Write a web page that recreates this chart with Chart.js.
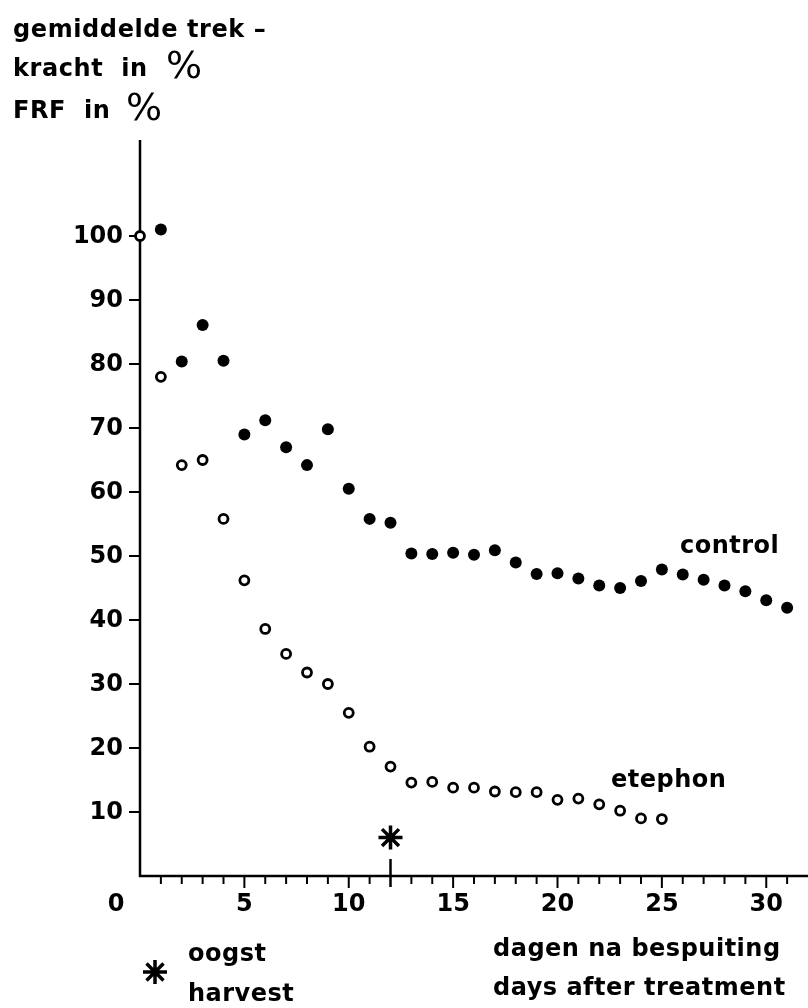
<!DOCTYPE html>
<html>
<head>
<meta charset="utf-8">
<script src="https://cdn.jsdelivr.net/npm/chart.js@4.4.1/dist/chart.umd.min.js"></script>
<style>
  html, body { margin: 0; padding: 0; background: #fff; }
  #wrap { width: 808px; height: 1008px; }
</style>
</head>
<body>
<div id="wrap"><canvas id="trekChart" width="808" height="1008"></canvas></div>
<script>
// days after spraying
const controlDays = [1, 2, 3, 4, 5, 6, 7, 8, 9, 10, 11, 12, 13, 14, 15, 16, 17, 18, 19, 20, 21, 22, 23, 24, 25, 26, 27, 28, 29, 30, 31];
const controlValues = [101.0, 80.4, 86.1, 80.5, 69.0, 71.2, 67.0, 64.2, 69.8, 60.5, 55.8, 55.2, 50.4, 50.3, 50.5, 50.2, 50.9, 49.0, 47.2, 47.3, 46.5, 45.4, 45.0, 46.1, 47.9, 47.1, 46.3, 45.4, 44.5, 43.1, 41.9];

const etephonDays = [0, 1, 2, 3, 4, 5, 6, 7, 8, 9, 10, 11, 12, 13, 14, 15, 16, 17, 18, 19, 20, 21, 22, 23, 24, 25];
const etephonValues = [100, 78.0, 64.2, 65.0, 55.8, 46.2, 38.6, 34.7, 31.8, 30.0, 25.5, 20.2, 17.1, 14.6, 14.7, 13.8, 13.8, 13.2, 13.1, 13.1, 11.9, 12.1, 11.2, 10.2, 9.0, 8.9];

// harvest marker
const harvestDay = 12;
const harvestLevel = 6;

const xTickLabels = [0, 5, 10, 15, 20, 25, 30];
const yTickLabels = [10, 20, 30, 40, 50, 60, 70, 80, 90, 100];
const xMinorTicks = [1, 2, 3, 4, 6, 7, 8, 9, 11, 13, 14, 16, 17, 18, 19, 21, 22, 23, 24, 26, 27, 28, 29, 31];

const FONT = 'bold 24px "DejaVu Sans"';

function toPoints(xs, ys) {
    return xs.map((x, i) => ({ x: x, y: ys[i] }));
}

function drawStar(ctx, x, y, r) {
    ctx.save();
    ctx.strokeStyle = '#000';
    ctx.lineWidth = 3.5;
    ctx.beginPath();
    for (let k = 0; k < 4; k++) {
        const a = k * Math.PI / 4;
        ctx.moveTo(x - Math.cos(a) * r, y - Math.sin(a) * r);
        ctx.lineTo(x + Math.cos(a) * r, y + Math.sin(a) * r);
    }
    ctx.stroke();
    ctx.restore();
}

// axes, ticks and all lettering are drawn by hand from the chart's scales
const axesPlugin = {
    id: 'handAxes',
    beforeDatasetsDraw(chart) {
        const ctx = chart.ctx;
        const xs = chart.scales.x;
        const ys = chart.scales.y;
        const x0 = xs.getPixelForValue(0);
        const y0 = ys.getPixelForValue(0);

        ctx.save();
        ctx.strokeStyle = '#000';
        ctx.fillStyle = '#000';

        // axis lines
        ctx.lineWidth = 2.5;
        ctx.beginPath();
        ctx.moveTo(x0, ys.top);
        ctx.lineTo(x0, y0);
        ctx.lineTo(xs.right, y0);
        ctx.stroke();

        // y ticks + labels
        ctx.lineWidth = 2;
        ctx.font = FONT;
        ctx.textAlign = 'right';
        ctx.textBaseline = 'middle';
        yTickLabels.forEach(v => {
            const py = ys.getPixelForValue(v);
            ctx.beginPath();
            ctx.moveTo(x0 - 11, py);
            ctx.lineTo(x0, py);
            ctx.stroke();
            ctx.fillText(String(v), x0 - 17, py + 1);
        });

        // x ticks
        xMinorTicks.forEach(d => {
            const px = xs.getPixelForValue(d);
            ctx.beginPath();
            ctx.moveTo(px, y0);
            ctx.lineTo(px, y0 + 8);
            ctx.stroke();
        });
        ctx.textAlign = 'center';
        ctx.textBaseline = 'alphabetic';
        xTickLabels.forEach(d => {
            const px = xs.getPixelForValue(d);
            if (d > 0) {
                ctx.beginPath();
                ctx.moveTo(px, y0);
                ctx.lineTo(px, y0 + 12);
                ctx.stroke();
                ctx.fillText(String(d), px, y0 + 35);
            } else {
                ctx.fillText('0', px - 24, y0 + 35);
            }
        });

        // harvest tick across the axis
        const hx = xs.getPixelForValue(harvestDay);
        ctx.lineWidth = 2.5;
        ctx.beginPath();
        ctx.moveTo(hx, y0 - 17);
        ctx.lineTo(hx, y0 + 11);
        ctx.stroke();
        ctx.restore();
    },
    afterDraw(chart) {
        const ctx = chart.ctx;
        ctx.save();
        ctx.fillStyle = '#000';
        ctx.textBaseline = 'alphabetic';
        ctx.textAlign = 'left';
        ctx.font = FONT;
        ctx.letterSpacing = '0.6px';

        ctx.fillText('gemiddelde trek \u2013', 13, 37);
        ctx.fillText('kracht  in', 13, 76);
        ctx.fillText('FRF  in', 13, 118);
        ctx.letterSpacing = '0px';
        ctx.font = '38px "DejaVu Sans"';
        ctx.fillText('%', 166, 78);
        ctx.fillText('%', 126, 120);

        ctx.font = FONT;
        ctx.letterSpacing = '0.5px';
        ctx.fillText('control', 680, 553);
        ctx.fillText('etephon', 611, 787);

        ctx.fillText('oogst', 188, 961);
        ctx.fillText('harvest', 188, 1001);
        ctx.fillText('dagen na bespuiting', 493, 956);
        ctx.fillText('days after treatment', 493, 995);

        drawStar(ctx, 155, 972, 12);
        ctx.restore();
    }
};

const ctx = document.getElementById('trekChart').getContext('2d');
new Chart(ctx, {
    type: 'scatter',
    data: {
        datasets: [
            {
                label: 'control',
                data: toPoints(controlDays, controlValues),
                pointStyle: 'circle',
                pointRadius: 6,
                borderWidth: 0,
                backgroundColor: '#000',
                clip: false
            },
            {
                label: 'etephon',
                data: toPoints(etephonDays, etephonValues),
                pointStyle: 'circle',
                pointRadius: 4.5,
                borderWidth: 2.8,
                borderColor: '#000',
                backgroundColor: '#fff',
                clip: false
            },
            {
                label: 'oogst',
                data: [{ x: harvestDay, y: harvestLevel }],
                pointStyle: 'star',
                pointRadius: 12,
                borderWidth: 3.5,
                borderColor: '#000',
                backgroundColor: '#000',
                clip: false
            }
        ]
    },
    options: {
        responsive: false,
        animation: false,
        events: [],
        layout: { autoPadding: false, padding: { left: 140, top: 140, right: 0, bottom: 132 } },
        scales: {
            x: { type: 'linear', min: 0, max: 32, display: false },
            y: { type: 'linear', min: 0, max: 115, display: false }
        },
        plugins: {
            legend: { display: false },
            tooltip: { enabled: false }
        }
    },
    plugins: [axesPlugin]
});
</script>
</body>
</html>
